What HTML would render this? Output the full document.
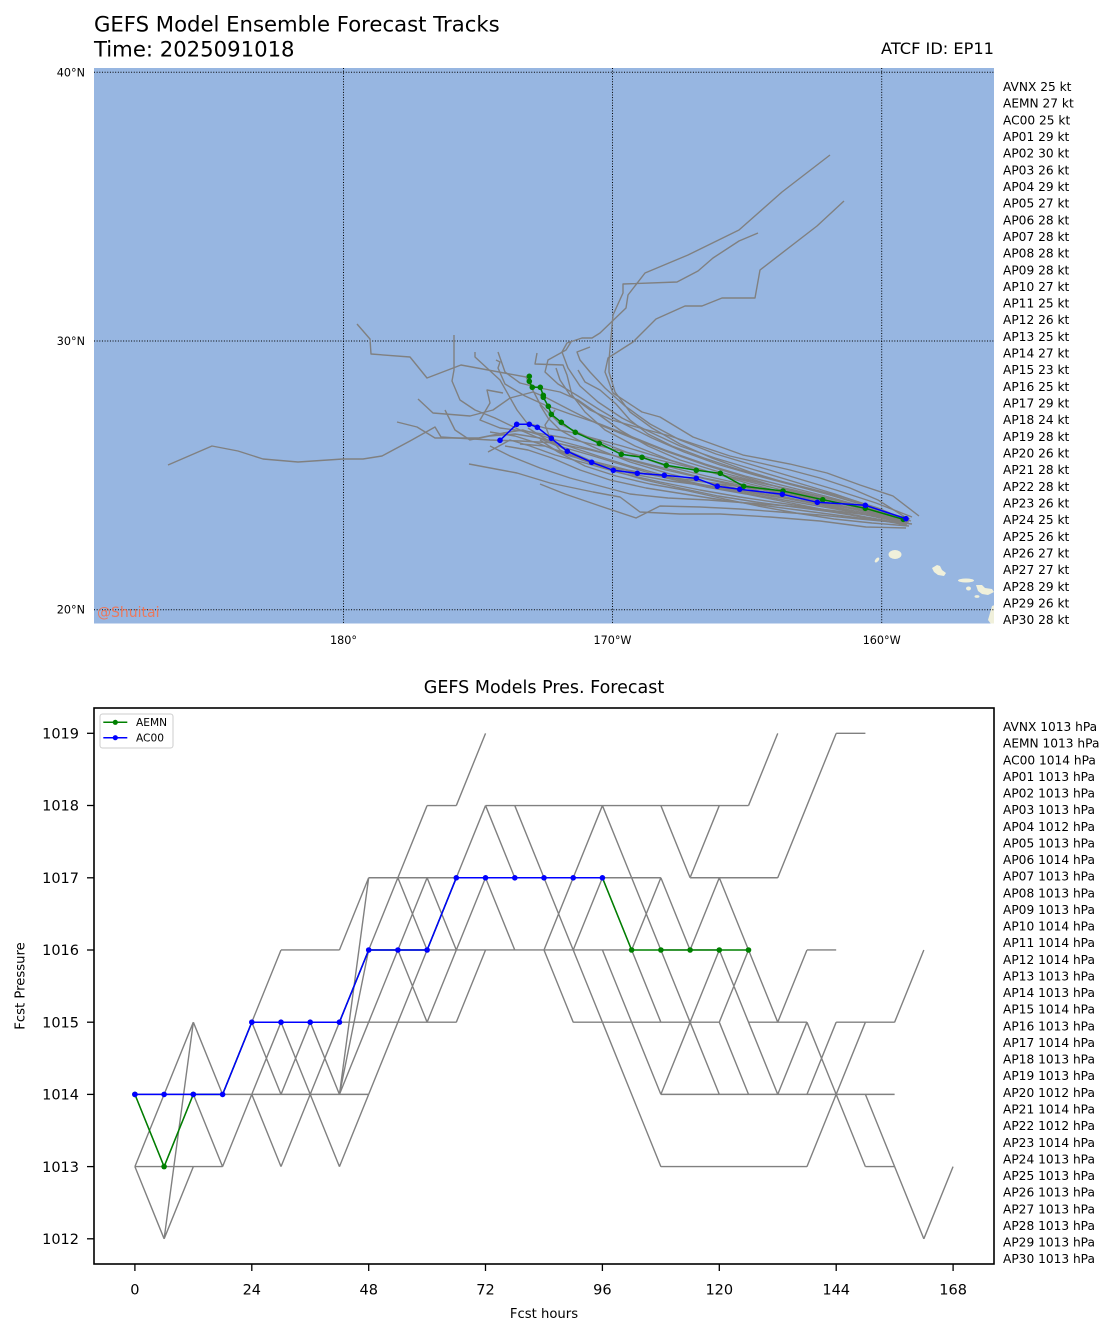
<!DOCTYPE html>
<html><head><meta charset="utf-8"><style>
html,body{margin:0;padding:0;background:#fff;}
svg{display:block;}
text{font-family:"DejaVu Sans","Liberation Sans",sans-serif;fill:#000;}
</style></head><body>
<svg width="1116" height="1335" viewBox="0 0 1116 1335" xmlns="http://www.w3.org/2000/svg">
<defs>
<clipPath id="mapclip"><rect x="94" y="68" width="900" height="555.5"/></clipPath>
<clipPath id="pclip"><rect x="94" y="708" width="900" height="556"/></clipPath>
</defs>

<!-- Titles -->
<text x="94" y="31.5" font-size="21.2">GEFS Model Ensemble Forecast Tracks</text>
<text x="94" y="56.5" font-size="21.2">Time: 2025091018</text>
<text x="994" y="54" font-size="16.2" text-anchor="end">ATCF ID: EP11</text>

<!-- MAP -->
<g clip-path="url(#mapclip)">
<rect x="94" y="68" width="900" height="556" fill="#97b6e1"/>
<!-- Hawaii -->
<g fill="#f0f0db">
<ellipse cx="877" cy="560" rx="1.6" ry="3" transform="rotate(40 877 560)"/>
<ellipse cx="895" cy="554.5" rx="6.5" ry="4.5"/>
<path d="M932,568 L937,565 L940,566 L942,570 L946,573 L944,576 L938,575 L934,572 Z"/>
<ellipse cx="966" cy="580.5" rx="8" ry="2"/>
<ellipse cx="968.5" cy="588.5" rx="2.5" ry="2"/>
<path d="M976,585 L982,585 L985,588 L992,589 L994,592 L988,595 L982,594 L978,591 Z"/>
<ellipse cx="977" cy="596.5" rx="2.5" ry="1.4"/>
<path d="M992,606 L1000,603 L1004,612 L1002,626 L994,628 L988,620 Z"/>
</g>
<!-- gridlines -->
<g stroke="#000" stroke-width="1" stroke-dasharray="1,1.65" fill="none">
<line x1="94" y1="72.3" x2="994" y2="72.3"/>
<line x1="94" y1="341" x2="994" y2="341"/>
<line x1="94" y1="609.7" x2="994" y2="609.7"/>
<line x1="343.5" y1="68" x2="343.5" y2="624"/>
<line x1="612.5" y1="68" x2="612.5" y2="624"/>
<line x1="881.7" y1="68" x2="881.7" y2="624"/>
</g>
<!-- gray tracks -->
<g stroke="#808080" stroke-width="1.4" fill="none" stroke-linejoin="round">
<polyline points="903,519 870,506 835,494 795,482 755,470 715,458 680,446 650,432 622,418 598,402 580,386 568,368 562,352 567,343 582,338 592,338 600,333 626,308 628,295 645,273 688,255 739,230 782,192 830,155"/>
<polyline points="906,520 870,507 830,495 790,484 750,472 712,458 680,444 652,428 630,412 615,392 609,372 609,360 613,315 623,293 623,284 677,282 698,271 713,258 739,241 758,233"/>
<polyline points="919,516 893,496 860,485 827,473 790,464 743,455 693,437 660,417 642,412 613,393 607,377 605,372 608,358 633,342 656,319 685,306 702,306 722,298 755,298 760,270 817,226 844,201"/>
<polyline points="905,522 866,512 826,503 786,494 746,485 706,476 666,466 626,452 590,438 560,424 540,404 526,377 461,365 427,378 410,357 371,354 370,339 357,324"/>
<polyline points="907,525 866,518 826,510 786,502 746,494 706,487 666,478 626,466 590,455 555,445 520,430 495,418 475,410 460,400 452,381 454,370 454,335"/>
<polyline points="904,521 862,509 822,499 782,490 742,480 702,470 662,458 622,446 600,440 570,432 545,428 527,423 517,410 500,380 475,357 475,352"/>
<polyline points="908,520 868,510 828,500 788,490 748,478 708,466 668,452 632,438 600,425 570,410 545,397 533,392 510,398 493,410 470,416 433,413 418,399"/>
<polyline points="906,523 866,515 826,506 786,497 746,488 706,479 666,470 626,459 590,449 556,440 523,430 503,433 478,438 435,438 417,427 397,422"/>
<polyline points="904,520 864,511 824,502 784,494 744,486 704,478 664,468 624,458 590,450 556,443 520,441 490,440 456,438 441,437 435,427 410,441 382,456 363,459 343,459 298,462 263,459 238,451 212,446 168,465"/>
<polyline points="906,528 866,527 820,521 770,517 720,514 680,514 640,512 620,497 593,492 550,483 517,473 469,464"/>
<polyline points="905,519 865,507 825,496 785,486 745,476 705,464 665,450 630,436 600,424 570,414 545,405 525,396 505,384 498,368 500,362 496,360"/>
<polyline points="909,522 870,512 830,503 790,494 750,484 710,472 670,460 635,446 605,430 585,412 572,395 567,375 563,365 535,364 537,353"/>
<polyline points="912,517 876,503 836,490 796,478 756,466 716,454 680,440 650,424 625,406 605,388 590,372 580,360 577,352 590,347"/>
<polyline points="904,524 860,516 820,509 780,503 740,497 700,490 660,482 620,473 585,463 555,455 530,446 510,440 488,452"/>
<polyline points="906,518 870,508 832,499 794,490 756,482 718,474 680,465 642,456 604,447 566,438 530,432 500,428 480,420 490,403 487,390 503,393"/>
<polyline points="910,519 872,510 834,502 796,495 758,489 720,484 682,479 644,474 606,466 570,456 540,444 515,436 490,432"/>
<polyline points="907,521 868,515 828,510 788,506 748,503 708,500 668,498 630,494 600,486 570,478 540,468 510,456 490,446"/>
<polyline points="903,523 860,519 820,515 780,512 740,509 700,507 660,506 636,518 600,506 565,494 540,484"/>
<polyline points="905,517 878,500 850,488 820,478 790,470 760,463 730,456 700,446 670,436 640,428 612,420 590,410 570,395 560,380 556,368"/>
<polyline points="908,523 870,514 830,506 790,499 750,491 710,483 670,474 630,462 600,450 578,440 560,430 548,418 540,405"/>
<polyline points="900,522 862,514 822,505 784,498 746,491 708,486 670,481 632,474 596,463 566,450 544,438 528,428"/>
<polyline points="912,524 874,520 836,515 798,510 760,505 722,500 684,494 646,488 610,480 580,470 552,458 528,450 505,446"/>
<polyline points="909,526 872,523 834,519 796,513 758,506 720,498 684,490 650,484 616,476 585,466 558,452 540,440"/>
<polyline points="904,519 878,508 846,498 812,489 776,480 740,470 704,458 672,446 648,434 630,420 616,404 600,390 585,382 578,370"/>
<polyline points="911,521 878,513 842,507 806,501 770,496 734,490 698,484 662,477 628,470 596,462 568,454 545,446 520,444"/>
<polyline points="906,524 870,518 832,512 794,507 756,502 718,496 680,488 645,480 612,470 582,460 560,450 550,438 545,425 555,410"/>
<polyline points="905,520 868,509 830,499 792,490 754,481 716,471 680,460 648,446 620,430 598,414 578,400 560,392 540,388 520,383 505,372 498,352"/>
<polyline points="907,519 872,507 834,496 796,486 758,476 720,465 684,452 652,438 624,424 600,410 578,396 558,384 545,372 548,360 566,350 571,342"/>
<polyline points="903,522 864,514 824,507 784,500 744,493 704,485 666,476 630,466 598,456 568,446 540,438 515,434 490,436 470,440 455,430 445,410"/>
</g>
<!-- AEMN -->
<polyline fill="none" stroke="#008000" stroke-width="1.5" points="903.3,519.3 865.3,508.3 822.7,499.7 783,491 743.7,486.3 720.3,473.3 696.3,470.3 666.3,465.3 642,457.3 621.3,454.3 599.3,443.3 575.3,432.3 561.3,422.3 551.3,414.3 548.3,406.3 543.3,397.3 543.3,395.3 540.3,387.3 532.3,387.3 529.3,381.3 529.3,376.3"/>
<g fill="#008000">
<circle cx="903.3" cy="519.3" r="2.8"/><circle cx="865.3" cy="508.3" r="2.8"/><circle cx="822.7" cy="499.7" r="2.8"/><circle cx="783" cy="491" r="2.8"/><circle cx="743.7" cy="486.3" r="2.8"/><circle cx="720.3" cy="473.3" r="2.8"/><circle cx="696.3" cy="470.3" r="2.8"/><circle cx="666.3" cy="465.3" r="2.8"/><circle cx="642" cy="457.3" r="2.8"/><circle cx="621.3" cy="454.3" r="2.8"/><circle cx="599.3" cy="443.3" r="2.8"/><circle cx="575.3" cy="432.3" r="2.8"/><circle cx="561.3" cy="422.3" r="2.8"/><circle cx="551.3" cy="414.3" r="2.8"/><circle cx="548.3" cy="406.3" r="2.8"/><circle cx="543.3" cy="397.3" r="2.8"/><circle cx="543.3" cy="395.3" r="2.8"/><circle cx="540.3" cy="387.3" r="2.8"/><circle cx="532.3" cy="387.3" r="2.8"/><circle cx="529.3" cy="381.3" r="2.8"/><circle cx="529.3" cy="376.3" r="2.8"/>
</g>
<!-- AC00 -->
<polyline fill="none" stroke="#0000ff" stroke-width="1.5" points="906,518.7 865.3,505.3 817.3,502.3 782.3,494.3 739.7,489.3 717.3,486.3 696.3,478.3 664.3,475.3 637.3,473.3 613.3,470.3 591.7,462.3 567.3,451.3 551.3,438.3 537.3,427.3 529.3,424.3 516.7,424.3 500,440.3"/>
<g fill="#0000ff">
<circle cx="906" cy="518.7" r="2.8"/><circle cx="865.3" cy="505.3" r="2.8"/><circle cx="817.3" cy="502.3" r="2.8"/><circle cx="782.3" cy="494.3" r="2.8"/><circle cx="739.7" cy="489.3" r="2.8"/><circle cx="717.3" cy="486.3" r="2.8"/><circle cx="696.3" cy="478.3" r="2.8"/><circle cx="664.3" cy="475.3" r="2.8"/><circle cx="637.3" cy="473.3" r="2.8"/><circle cx="613.3" cy="470.3" r="2.8"/><circle cx="591.7" cy="462.3" r="2.8"/><circle cx="567.3" cy="451.3" r="2.8"/><circle cx="551.3" cy="438.3" r="2.8"/><circle cx="537.3" cy="427.3" r="2.8"/><circle cx="529.3" cy="424.3" r="2.8"/><circle cx="516.7" cy="424.3" r="2.8"/><circle cx="500" cy="440.3" r="2.8"/>
</g>
<text x="97" y="617" font-size="14" style="fill:#ff6a3d" fill-opacity="0.8">@Shuitai</text>
</g>
<!-- map tick labels -->
<g font-size="11.2">
<text x="85" y="76.3" text-anchor="end">40°N</text>
<text x="85" y="345" text-anchor="end">30°N</text>
<text x="85" y="613.7" text-anchor="end">20°N</text>
<text x="343.5" y="644" text-anchor="middle">180°</text>
<text x="612.5" y="644" text-anchor="middle">170°W</text>
<text x="881.7" y="644" text-anchor="middle">160°W</text>
</g>
<!-- map right labels -->
<text font-size="12.2" x="1003" y="91"><tspan x="1003" dy="0">AVNX 25 kt</tspan><tspan x="1003" dy="16.66">AEMN 27 kt</tspan><tspan x="1003" dy="16.66">AC00 25 kt</tspan><tspan x="1003" dy="16.66">AP01 29 kt</tspan><tspan x="1003" dy="16.66">AP02 30 kt</tspan><tspan x="1003" dy="16.66">AP03 26 kt</tspan><tspan x="1003" dy="16.66">AP04 29 kt</tspan><tspan x="1003" dy="16.66">AP05 27 kt</tspan><tspan x="1003" dy="16.66">AP06 28 kt</tspan><tspan x="1003" dy="16.66">AP07 28 kt</tspan><tspan x="1003" dy="16.66">AP08 28 kt</tspan><tspan x="1003" dy="16.66">AP09 28 kt</tspan><tspan x="1003" dy="16.66">AP10 27 kt</tspan><tspan x="1003" dy="16.66">AP11 25 kt</tspan><tspan x="1003" dy="16.66">AP12 26 kt</tspan><tspan x="1003" dy="16.66">AP13 25 kt</tspan><tspan x="1003" dy="16.66">AP14 27 kt</tspan><tspan x="1003" dy="16.66">AP15 23 kt</tspan><tspan x="1003" dy="16.66">AP16 25 kt</tspan><tspan x="1003" dy="16.66">AP17 29 kt</tspan><tspan x="1003" dy="16.66">AP18 24 kt</tspan><tspan x="1003" dy="16.66">AP19 28 kt</tspan><tspan x="1003" dy="16.66">AP20 26 kt</tspan><tspan x="1003" dy="16.66">AP21 28 kt</tspan><tspan x="1003" dy="16.66">AP22 28 kt</tspan><tspan x="1003" dy="16.66">AP23 26 kt</tspan><tspan x="1003" dy="16.66">AP24 25 kt</tspan><tspan x="1003" dy="16.66">AP25 26 kt</tspan><tspan x="1003" dy="16.66">AP26 27 kt</tspan><tspan x="1003" dy="16.66">AP27 27 kt</tspan><tspan x="1003" dy="16.66">AP28 29 kt</tspan><tspan x="1003" dy="16.66">AP29 26 kt</tspan><tspan x="1003" dy="16.66">AP30 28 kt</tspan></text>

<!-- PRESSURE CHART -->
<text x="544" y="693" font-size="17.5" text-anchor="middle">GEFS Models Pres. Forecast</text>
<g clip-path="url(#pclip)">
<g transform="translate(134.9,1238.8) scale(29.22,-72.208)">
<path fill="none" stroke="#808080" stroke-width="1.4" vector-effect="non-scaling-stroke" stroke-linejoin="round" d="
M0 1L1 1 M0 2L1 1 M0 1L1 2 M0 1L1 0 M0 2L1 2
M1 2L2 3 M1 1L2 2 M1 1L2 1 M1 0L2 1 M1 0L2 3 M1 2L2 2
M2 3L3 2 M2 2L3 1 M2 1L3 1 M2 2L3 2
M3 2L4 3 M3 2L4 2 M3 1L4 2
M4 3L5 4 M4 3L5 2 M4 2L5 3 M4 2L5 2 M4 2L5 1 M4 3L5 3
M5 4L6 4 M5 3L6 2 M5 2L6 3 M5 2L6 2 M5 1L6 2 M5 3L6 3
M6 4L7 4 M6 3L7 2 M6 2L7 3 M6 2L7 2 M6 2L7 1 M6 3L7 3
M7 4L8 5 M7 3L8 4 M7 2L8 3 M7 2L8 4 M7 2L8 5 M7 2L8 2 M7 1L8 2 M7 3L8 3
M8 5L9 5 M8 4L9 5 M8 3L9 4 M8 4L9 4 M8 3L9 3 M8 2L9 3
M9 5L10 6 M9 5L10 5 M9 5L10 4 M9 4L10 5 M9 4L10 3 M9 3L10 4 M9 3L10 3 M9 4L10 4
M10 6L11 6 M10 5L11 4 M10 4L11 5 M10 3L11 3 M10 3L11 4 M10 4L11 4 M10 5L11 5
M11 6L12 7 M11 5L12 6 M11 4L12 5 M11 3L12 4 M11 4L12 4 M11 5L12 5
M12 6L13 6 M12 6L13 5 M12 5L13 4 M12 4L13 4 M12 5L13 5
M13 6L14 6 M13 6L14 5 M13 4L14 4 M13 5L14 5
M14 6L15 6 M14 5L15 4 M14 4L15 5 M14 4L15 3 M14 4L15 4 M14 5L15 5
M15 5L16 6 M15 4L16 5 M15 4L16 4 M15 3L16 3 M15 4L16 3 M15 5L16 5 M15 6L16 6
M16 6L17 5 M16 6L17 6 M16 5L17 5 M16 4L17 3 M16 4L17 4 M16 5L17 4 M16 3L17 3 M16 3L17 2
M17 6L18 6 M17 5L18 4 M17 4L18 5 M17 4L18 3 M17 3L18 2 M17 3L18 3 M17 5L18 5 M17 2L18 1
M18 6L19 5 M18 6L19 6 M18 5L19 4 M18 4L19 3 M18 2L19 3 M18 2L19 2 M18 3L19 3 M18 1L19 1 M18 4L19 4
M19 5L20 6 M19 6L20 6 M19 5L20 5 M19 4L20 5 M19 3L20 4 M19 3L20 2 M19 3L20 3 M19 2L20 2 M19 1L20 1 M19 4L20 4
M20 6L21 6 M20 5L21 4 M20 4L21 3 M20 3L21 4 M20 3L21 2 M20 5L21 5 M20 2L21 2 M20 1L21 1
M21 6L22 7 M21 5L22 5 M21 4L22 3 M21 3L22 2 M21 3L22 3 M21 2L22 2 M21 1L22 1
M22 5L23 6 M22 3L23 4 M22 3L23 3 M22 2L23 3 M22 2L23 2 M22 1L23 1
M23 6L24 7 M23 4L24 4 M23 3L24 2 M23 2L24 3 M23 1L24 2 M23 2L24 2
M24 7L25 7 M24 3L25 3 M24 2L25 3 M24 2L25 1 M24 2L25 2
M25 3L26 3 M25 1L26 1 M25 2L26 2 M25 2L26 1
M26 3L27 4 M26 1L27 0
M27 0L28 1"/>
</g>
<!-- AEMN pressure -->
<polyline fill="none" stroke="#008000" stroke-width="1.5" points="134.9,1094.4 164.1,1166.6 193.3,1094.4 222.6,1094.4 251.8,1022.2 281,1022.2 310.2,1022.2 339.4,1022.2 368.7,950 397.9,950 427.1,950 456.3,877.8 485.5,877.8 514.8,877.8 544,877.8 573.2,877.8 602.4,877.8 631.6,950 660.9,950 690.1,950 719.3,950 748.5,950"/>
<g fill="#008000">
<circle cx="134.9" cy="1094.4" r="2.8"/><circle cx="164.1" cy="1166.6" r="2.8"/><circle cx="193.3" cy="1094.4" r="2.8"/><circle cx="631.6" cy="950" r="2.8"/><circle cx="660.9" cy="950" r="2.8"/><circle cx="690.1" cy="950" r="2.8"/><circle cx="719.3" cy="950" r="2.8"/><circle cx="748.5" cy="950" r="2.8"/>
</g>
<!-- AC00 pressure -->
<polyline fill="none" stroke="#0000ff" stroke-width="1.5" points="134.9,1094.4 164.1,1094.4 193.3,1094.4 222.6,1094.4 251.8,1022.2 281,1022.2 310.2,1022.2 339.4,1022.2 368.7,950 397.9,950 427.1,950 456.3,877.8 485.5,877.8 514.8,877.8 544,877.8 573.2,877.8 602.4,877.8"/>
<g fill="#0000ff">
<circle cx="134.9" cy="1094.4" r="2.8"/><circle cx="164.1" cy="1094.4" r="2.8"/><circle cx="193.3" cy="1094.4" r="2.8"/><circle cx="222.6" cy="1094.4" r="2.8"/><circle cx="251.8" cy="1022.2" r="2.8"/><circle cx="281" cy="1022.2" r="2.8"/><circle cx="310.2" cy="1022.2" r="2.8"/><circle cx="339.4" cy="1022.2" r="2.8"/><circle cx="368.7" cy="950" r="2.8"/><circle cx="397.9" cy="950" r="2.8"/><circle cx="427.1" cy="950" r="2.8"/><circle cx="456.3" cy="877.8" r="2.8"/><circle cx="485.5" cy="877.8" r="2.8"/><circle cx="514.8" cy="877.8" r="2.8"/><circle cx="544" cy="877.8" r="2.8"/><circle cx="573.2" cy="877.8" r="2.8"/><circle cx="602.4" cy="877.8" r="2.8"/>
</g>
</g>
<!-- legend -->
<rect x="100" y="714" width="73" height="34" rx="2.5" fill="#fff" fill-opacity="0.8" stroke="#cccccc" stroke-width="1"/>
<line x1="103.3" y1="722.3" x2="127.3" y2="722.3" stroke="#008000" stroke-width="1.5"/>
<circle cx="115.3" cy="722.3" r="2.6" fill="#008000"/>
<line x1="103.3" y1="737.7" x2="127.3" y2="737.7" stroke="#0000ff" stroke-width="1.5"/>
<circle cx="115.3" cy="737.7" r="2.6" fill="#0000ff"/>
<text x="136" y="726.2" font-size="10.6">AEMN</text>
<text x="136" y="741.6" font-size="10.6">AC00</text>
<!-- frame -->
<rect x="94" y="708" width="900" height="556" fill="none" stroke="#000" stroke-width="1.6"/>
<!-- ticks -->
<g stroke="#000" stroke-width="1.3">
<line x1="87" y1="733.3" x2="94" y2="733.3"/><line x1="87" y1="805.5" x2="94" y2="805.5"/><line x1="87" y1="877.8" x2="94" y2="877.8"/><line x1="87" y1="950" x2="94" y2="950"/><line x1="87" y1="1022.2" x2="94" y2="1022.2"/><line x1="87" y1="1094.4" x2="94" y2="1094.4"/><line x1="87" y1="1166.6" x2="94" y2="1166.6"/><line x1="87" y1="1238.8" x2="94" y2="1238.8"/>
<line x1="134.9" y1="1264" x2="134.9" y2="1271"/><line x1="251.8" y1="1264" x2="251.8" y2="1271"/><line x1="368.7" y1="1264" x2="368.7" y2="1271"/><line x1="485.5" y1="1264" x2="485.5" y2="1271"/><line x1="602.4" y1="1264" x2="602.4" y2="1271"/><line x1="719.3" y1="1264" x2="719.3" y2="1271"/><line x1="836.2" y1="1264" x2="836.2" y2="1271"/><line x1="953.1" y1="1264" x2="953.1" y2="1271"/>
</g>
<g font-size="14.5" text-anchor="end">
<text x="79" y="738.5">1019</text><text x="79" y="810.7">1018</text><text x="79" y="883">1017</text><text x="79" y="955.2">1016</text><text x="79" y="1027.4">1015</text><text x="79" y="1099.6">1014</text><text x="79" y="1171.8">1013</text><text x="79" y="1244">1012</text>
</g>
<g font-size="14.5" text-anchor="middle">
<text x="134.9" y="1294.5">0</text><text x="251.8" y="1294.5">24</text><text x="368.7" y="1294.5">48</text><text x="485.5" y="1294.5">72</text><text x="602.4" y="1294.5">96</text><text x="719.3" y="1294.5">120</text><text x="836.2" y="1294.5">144</text><text x="953.1" y="1294.5">168</text>
</g>
<text x="544" y="1318" font-size="13.2" text-anchor="middle">Fcst hours</text>
<text x="0" y="0" font-size="13.2" text-anchor="middle" transform="translate(24.5,986) rotate(-90)">Fcst Pressure</text>
<!-- pressure right labels -->
<text font-size="12.2" x="1003" y="731"><tspan x="1003" dy="0">AVNX 1013 hPa</tspan><tspan x="1003" dy="16.63">AEMN 1013 hPa</tspan><tspan x="1003" dy="16.63">AC00 1014 hPa</tspan><tspan x="1003" dy="16.63">AP01 1013 hPa</tspan><tspan x="1003" dy="16.63">AP02 1013 hPa</tspan><tspan x="1003" dy="16.63">AP03 1013 hPa</tspan><tspan x="1003" dy="16.63">AP04 1012 hPa</tspan><tspan x="1003" dy="16.63">AP05 1013 hPa</tspan><tspan x="1003" dy="16.63">AP06 1014 hPa</tspan><tspan x="1003" dy="16.63">AP07 1013 hPa</tspan><tspan x="1003" dy="16.63">AP08 1013 hPa</tspan><tspan x="1003" dy="16.63">AP09 1013 hPa</tspan><tspan x="1003" dy="16.63">AP10 1014 hPa</tspan><tspan x="1003" dy="16.63">AP11 1014 hPa</tspan><tspan x="1003" dy="16.63">AP12 1014 hPa</tspan><tspan x="1003" dy="16.63">AP13 1013 hPa</tspan><tspan x="1003" dy="16.63">AP14 1013 hPa</tspan><tspan x="1003" dy="16.63">AP15 1014 hPa</tspan><tspan x="1003" dy="16.63">AP16 1013 hPa</tspan><tspan x="1003" dy="16.63">AP17 1014 hPa</tspan><tspan x="1003" dy="16.63">AP18 1013 hPa</tspan><tspan x="1003" dy="16.63">AP19 1013 hPa</tspan><tspan x="1003" dy="16.63">AP20 1012 hPa</tspan><tspan x="1003" dy="16.63">AP21 1014 hPa</tspan><tspan x="1003" dy="16.63">AP22 1012 hPa</tspan><tspan x="1003" dy="16.63">AP23 1014 hPa</tspan><tspan x="1003" dy="16.63">AP24 1013 hPa</tspan><tspan x="1003" dy="16.63">AP25 1013 hPa</tspan><tspan x="1003" dy="16.63">AP26 1013 hPa</tspan><tspan x="1003" dy="16.63">AP27 1013 hPa</tspan><tspan x="1003" dy="16.63">AP28 1013 hPa</tspan><tspan x="1003" dy="16.63">AP29 1013 hPa</tspan><tspan x="1003" dy="16.63">AP30 1013 hPa</tspan></text>
</svg>
</body></html>
